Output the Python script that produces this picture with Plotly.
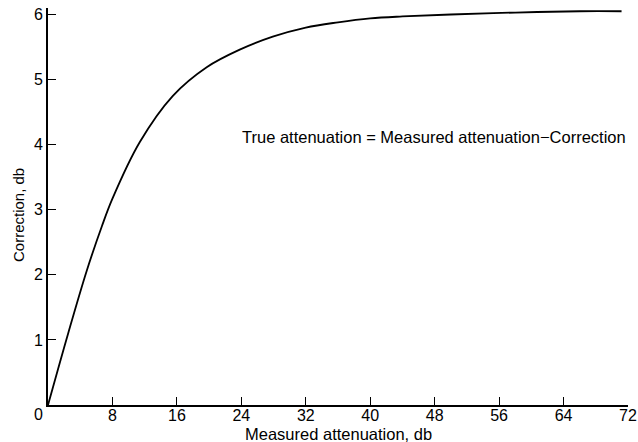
import plotly.graph_objects as go

# Measured attenuation (db) and correction (db)
measured_db = [0, 2.5, 4.8, 6.7, 8.0, 11.4, 15.5, 19.7, 23.8, 27.9, 32.0, 36.0, 40.0, 44.0, 50.0, 58.0, 66.0, 71.2]
correction_db = [0, 1.10, 2.06, 2.75, 3.17, 4.04, 4.75, 5.19, 5.46, 5.66, 5.80, 5.88, 5.94, 5.97, 6.00, 6.03, 6.05, 6.05]

x_ticks = [8, 16, 24, 32, 40, 48, 56, 64, 72]
x_tick_labels = ["8", "16", "24", "32", "40", "48", "56", "64", "72"]
y_ticks = [1, 2, 3, 4, 5, 6]
y_tick_labels = ["1", "2", "3", "4", "5", "6"]
origin_label = "0"

FONT = "Liberation Sans"
L, R, T, B = 48, 10, 8, 37
H = 442 - T - B
W = 638 - L - R

fig = go.Figure()
fig.add_trace(go.Scatter(
    x=measured_db, y=correction_db, mode="lines",
    line=dict(color="black", width=1.8, shape="spline", smoothing=1.0),
    showlegend=False, hoverinfo="skip",
))

fig.update_layout(
    width=638, height=442,
    margin=dict(l=L, r=R, t=T, b=B, autoexpand=False),
    paper_bgcolor="white", plot_bgcolor="white",
    font=dict(family=FONT, color="black", size=15),
    xaxis=dict(
        range=[0, 72], tickvals=x_ticks, ticktext=x_tick_labels,
        ticks="inside", ticklen=8, tickwidth=1, tickcolor="black",
        showline=True, linecolor="black", linewidth=2,
        showgrid=False, zeroline=False, fixedrange=True, automargin=False,
        tickfont=dict(size=16), ticklabelstandoff=-5,
    ),
    yaxis=dict(
        range=[0, 6.1], tickvals=y_ticks, ticktext=y_tick_labels,
        ticks="inside", ticklen=8, tickwidth=1, tickcolor="black",
        showline=True, linecolor="black", linewidth=2,
        showgrid=False, zeroline=False, fixedrange=True, automargin=False,
        tickfont=dict(size=16),
    ),
    annotations=[
        dict(x=23.8, y=4.12, xref="x", yref="y", xanchor="left", yanchor="middle",
             text="True attenuation = Measured attenuation\u2212Correction",
             showarrow=False, font=dict(size=16.5)),
        dict(x=-10 / W, y=0, xref="paper", yref="paper", xanchor="center", yanchor="top",
             yshift=1, text=origin_label, showarrow=False, font=dict(size=16)),
        dict(x=0.5, y=(405 - 445) / H, xref="paper", yref="paper",
             xanchor="center", yanchor="bottom", text="Measured attenuation, db",
             showarrow=False, font=dict(size=16.5)),
        dict(x=(18 - L) / W, y=(405 - 215) / H, xref="paper", yref="paper",
             xanchor="center", yanchor="middle", textangle=-90, text="Correction, db",
             showarrow=False, font=dict(size=15)),
    ],
)

fig.write_html("out.html", config={"displayModeBar": False},
               post_script="document.body.style.margin='0';")
